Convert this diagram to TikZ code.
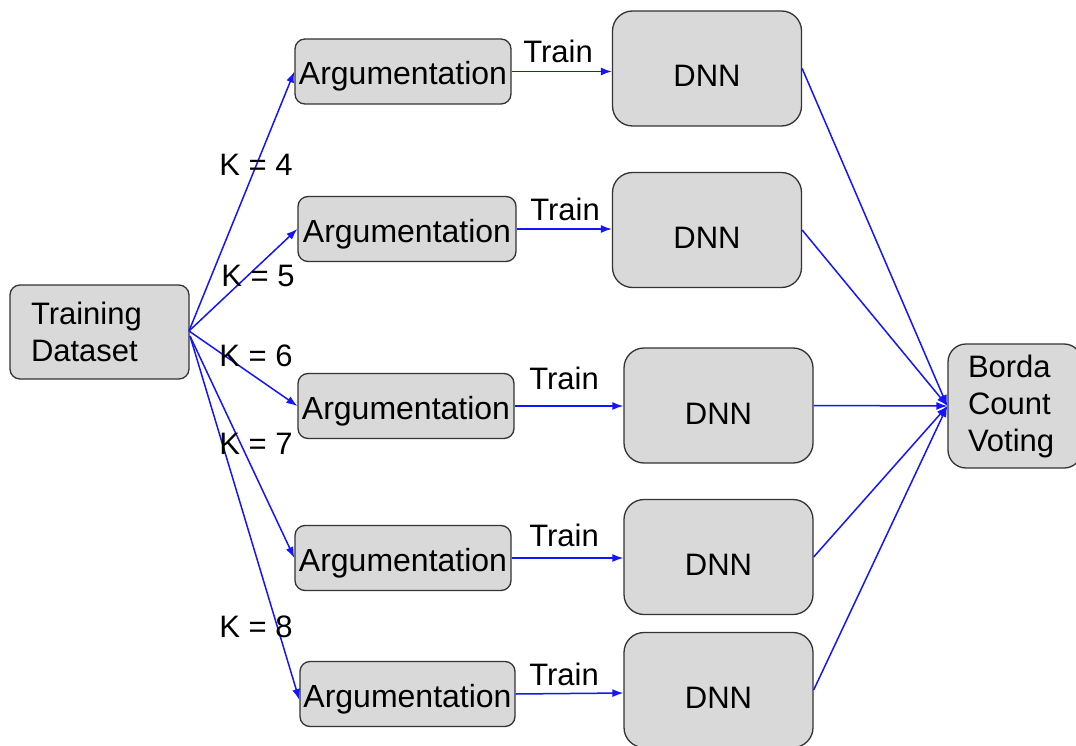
\documentclass[tikz,border=0pt]{standalone}
\usepackage{fontspec}
\setmainfont{Liberation Sans}
\usetikzlibrary{arrows.meta}
\definecolor{boxfill}{RGB}{217,217,217}
\definecolor{boxline}{RGB}{51,51,51}
\definecolor{arrowblue}{RGB}{20,20,255}
\begin{document}
\begin{tikzpicture}[x=1pt,y=-1pt,
  box/.style={draw=boxline, line width=1.3pt, fill=boxfill, rounded corners=10pt, inner sep=0pt,
    font=\fontsize{31}{37}\selectfont},
  argbox/.style={box, font=\fontsize{32}{37}\selectfont, text height=27pt, text depth=0pt,
    minimum width=216pt, minimum height=65pt},
  dnnbox/.style={box, rounded corners=20pt, text height=37pt, text depth=0pt,
    minimum width=189pt, minimum height=115pt},
  conn/.style={draw=arrowblue, line width=1.5pt, -{Latex[length=11pt,width=8pt]}},
  lbl/.style={font=\fontsize{31}{37}\selectfont, inner sep=0pt}]
\useasboundingbox (0,0) rectangle (1076,746);

\node[box, minimum width=179pt, minimum height=94pt, text width=137pt, align=left, inner xsep=21pt] (td) at (99.5,332) {Training\\Dataset};

\node[argbox] (a1) at (403,71.5) {Argumentation};
\node[argbox, minimum width=218pt] (a2) at (407,229) {Argumentation};
\node[argbox] (a3) at (406,406) {Argumentation};
\node[argbox] (a4) at (403,558) {Argumentation};
\node[argbox, minimum width=215pt] (a5) at (407.5,694) {Argumentation};

\node[dnnbox] (d1) at (707,68.5) {DNN};
\node[dnnbox] (d2) at (707,230) {DNN};
\node[dnnbox] (d3) at (718.5,405.5) {DNN};
\node[dnnbox] (d4) at (718.5,557) {DNN};
\node[dnnbox] (d5) at (718.5,690) {DNN};

\node[box, rounded corners=18pt, minimum width=134pt, minimum height=124pt, text width=94pt, align=left, inner xsep=20pt] (bc) at (1015,406) {Borda\\Count\\Voting};

\coordinate (src) at (189,331);
\coordinate (srcb) at (190,336);

\draw[conn] (src) -- (a1.west);
\draw[conn] (src) -- (a2.west);
\draw[conn] (src) -- (a3.west);
\draw[conn] (srcb) -- (a4.west);
\draw[conn] (srcb) -- ([yshift=-6pt]a5.west);

\draw[conn] (a1.east) -- (d1.west |- a1.east);
\draw[conn] (a2.east) -- (d2.west |- a2.east);
\draw[conn] (a3.east) -- (d3.west |- a3.east);
\draw[conn] (a4.east) -- (d4.west |- a4.east);
\draw[conn] (a5.east) -- ([yshift=-3pt]d5.west);

\draw[conn] (d1.east) -- (bc.west);
\draw[conn] (d2.east) -- (bc.west);
\draw[conn] (d3.east) -- (bc.west);
\draw[conn] (d4.east) -- (bc.west);
\draw[conn] (d5.east) -- (bc.west);

\node[lbl] (k4) at (256,165) {K = 4};
\node[lbl] (k5) at (258,276) {K = 5};
\node[lbl] (k6) at (256,356) {K = 6};
\node[lbl] (k7) at (256,444) {K = 7};
\node[lbl] (k8) at (256,627) {K = 8};

\node[lbl] (t1) at (558,51) {Train};
\node[lbl] (t2) at (565,209) {Train};
\node[lbl] (t3) at (564,378) {Train};
\node[lbl] (t4) at (564,535) {Train};
\node[lbl] (t5) at (564,674) {Train};
\end{tikzpicture}
\end{document}
